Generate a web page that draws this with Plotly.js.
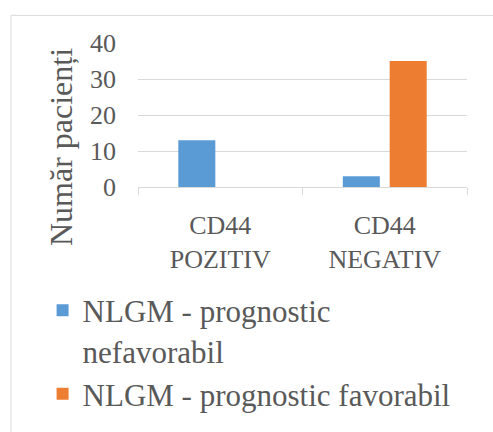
<!DOCTYPE html>
<html>
<head>
<meta charset="utf-8">
<script src="https://cdn.plot.ly/plotly-3.0.1.min.js"></script>
<style>
  html, body { margin: 0; padding: 0; background: #ffffff; }
  #chart { width: 493px; height: 432px; }
</style>
</head>
<body>
<div id="chart"></div>
<script>
const categories = ["CD44<br>POZITIV", "CD44<br>NEGATIV"];
const seriesNames = ["NLGM - prognostic<br>nefavorabil", "NLGM - prognostic favorabil"];
const nefavorabil = [13, 3];
const favorabil = [0, 35];
const yTickVals = [0, 10, 20, 30, 40];
const yTitle = "Număr pacienți";

const FONT = 'Liberation Serif, Times New Roman, serif';
const GREY = '#595959';
const LINE = '#d9d9d9';

const traces = [
  { type: 'bar', name: seriesNames[0], x: categories, y: nefavorabil,
    marker: { color: '#5b9bd5' }, hoverinfo: 'none' },
  { type: 'bar', name: seriesNames[1], x: categories, y: favorabil,
    marker: { color: '#ed7d31' }, hoverinfo: 'none' }
];

const layout = {
  width: 493, height: 432,
  margin: { l: 138, r: 26, t: 43, b: 238, pad: 0 },
  paper_bgcolor: '#ffffff', plot_bgcolor: '#ffffff',
  font: { family: FONT, color: GREY, size: 26 },
  barmode: 'group',
  bargap: 0.43,
  bargroupgap: 0.21,
  showlegend: true,
  legend: {
    orientation: 'v',
    x: -0.29, xanchor: 'left',
    y: -0.67, yanchor: 'top',
    font: { family: FONT, color: GREY, size: 31 },
    valign: 'top',
    bgcolor: 'rgba(0,0,0,0)',
    traceorder: 'normal'
  },
  xaxis: {
    type: 'category',
    showline: true, linecolor: LINE, linewidth: 1,
    ticks: 'outside', ticklen: 7, tickcolor: LINE, tickwidth: 1,
    tickson: 'boundaries',
    showgrid: false, zeroline: false,
    tickfont: { family: FONT, color: GREY, size: 26 },
    ticklabelstandoff: 15,
    fixedrange: true
  },
  yaxis: {
    range: [0, 40],
    tickvals: yTickVals,
    ticks: '',
    showgrid: true, gridcolor: LINE, gridwidth: 1,
    zeroline: false, showline: false,
    tickfont: { family: FONT, color: GREY, size: 26 },
    ticklabelstandoff: 21,
    fixedrange: true
  },
  annotations: [{
    text: yTitle, textangle: -90,
    xref: 'paper', yref: 'paper',
    x: -0.232, y: 0.275, xanchor: 'center', yanchor: 'middle',
    showarrow: false,
    font: { family: FONT, color: GREY, size: 32 }
  }],
  shapes: [{
    type: 'rect', xref: 'paper', yref: 'paper',
    x0: -0.386, x1: 1.5, y0: -3, y1: 1.192,
    line: { color: LINE, width: 1 }, fillcolor: 'rgba(0,0,0,0)', layer: 'below'
  }]
};

Plotly.newPlot('chart', traces, layout, { displayModeBar: false, staticPlot: true });
</script>
</body>
</html>
